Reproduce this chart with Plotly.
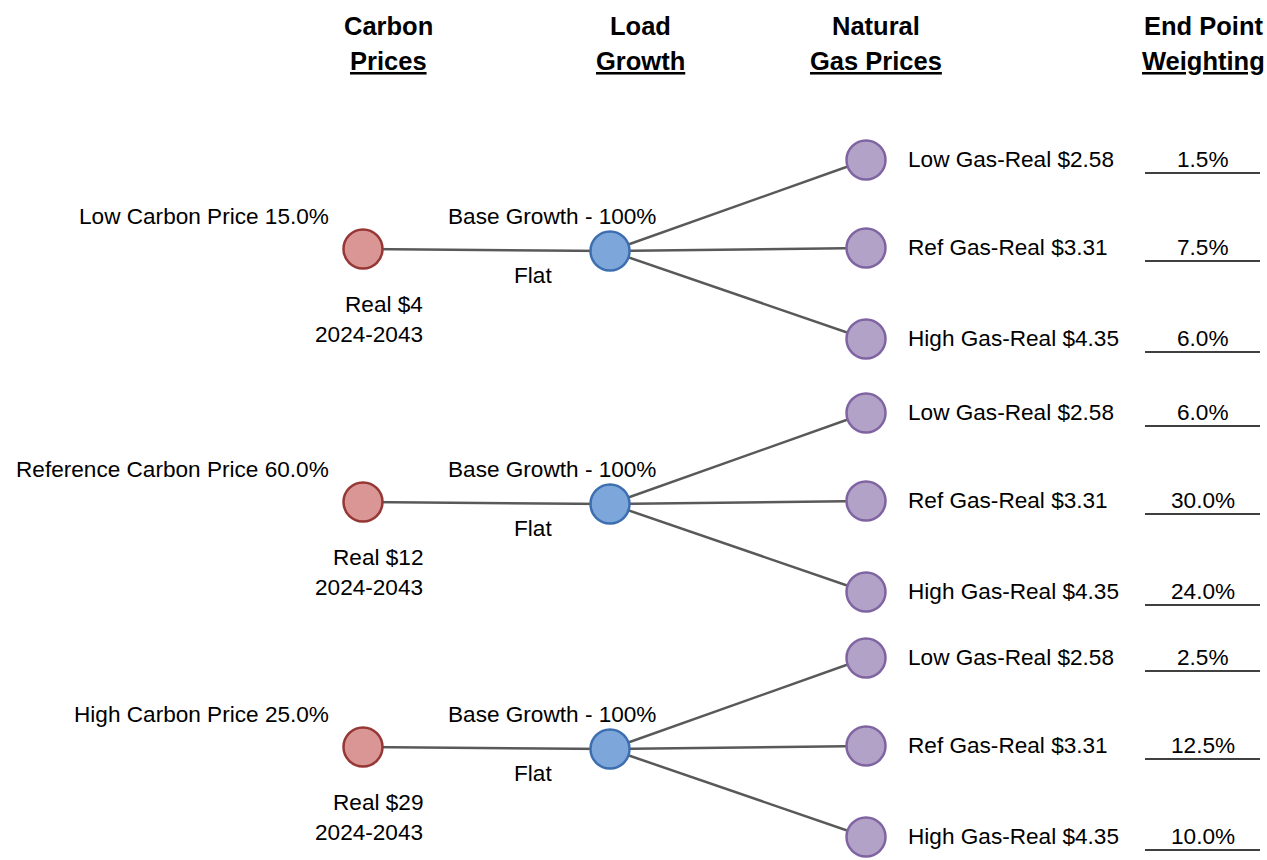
import plotly.graph_objects as go

# scenario tree data
carbon_labels = ["Low Carbon Price 15.0%", "Reference Carbon Price 60.0%", "High Carbon Price 25.0%"]
carbon_prices = ["Real $4", "Real $12", "Real $29"]
carbon_period = "2024-2043"
load_label = "Base Growth - 100%"
load_sub = "Flat"
gas_labels = ["Low Gas-Real $2.58", "Ref Gas-Real $3.31", "High Gas-Real $4.35"]
weights = [1.5, 7.5, 6.0, 6.0, 30.0, 24.0, 2.5, 12.5, 10.0]
headers = [("Carbon", "Prices"), ("Load", "Growth"), ("Natural", "Gas Prices"), ("End Point", "Weighting")]

# layout (pixel space)
X_CARBON, X_LOAD, X_GAS, X_PCT = 363, 610, 866, 1203
ROW_Y = [249, 502, 747]
GAS_OFFSET = [-91, -3, 88]
HEADER_X = [388, 640, 876, 1203]

FONT = "Liberation Sans, Arial, sans-serif"
LINE = "#595959"

fig = go.Figure()

# edges
ex, ey = [], []
gas_x, gas_y = [], []
for y in ROW_Y:
    ly = y + 2
    ex += [X_CARBON, X_LOAD, None]
    ey += [y, ly, None]
    for off in GAS_OFFSET:
        ex += [X_LOAD, X_GAS, None]
        ey += [ly, ly + off, None]
        gas_x.append(X_GAS)
        gas_y.append(ly + off)

fig.add_trace(go.Scatter(x=ex, y=ey, mode="lines", line=dict(color=LINE, width=2.5),
                         hoverinfo="skip"))

# underlines for weights
ux, uy = [], []
for gy in gas_y:
    ux += [X_PCT - 58, X_PCT + 57, None]
    uy += [gy + 13, gy + 13, None]
fig.add_trace(go.Scatter(x=ux, y=uy, mode="lines", line=dict(color="#000000", width=1.3),
                         hoverinfo="skip"))

# nodes
node_style = [
    ([X_CARBON] * 3, ROW_Y, "#D99694", "#953735"),
    ([X_LOAD] * 3, [y + 2 for y in ROW_Y], "#7DA7DB", "#3D6FB0"),
    (gas_x, gas_y, "#B3A2C7", "#8064A2"),
]
for xs, ys, fill, edge in node_style:
    fig.add_trace(go.Scatter(x=xs, y=ys, mode="markers",
                             marker=dict(size=39, color=fill, line=dict(color=edge, width=2.5)),
                             hoverinfo="skip"))

ann = []
txt = dict(size=22.6, color="#000000", family=FONT)
hdr = dict(size=25.5, color="#000000", family=FONT)

for hx, (h1, h2) in zip(HEADER_X, headers):
    ann.append(dict(x=hx, y=26, text="<b>" + h1 + "</b>", showarrow=False, font=hdr))
    ann.append(dict(x=hx, y=61, text="<b><u>" + h2 + "</u></b>", showarrow=False, font=hdr))

for i, y in enumerate(ROW_Y):
    ann.append(dict(x=331, y=y - 33, text=carbon_labels[i], xanchor="right",
                    showarrow=False, font=txt))
    ann.append(dict(x=425, y=y + 55, text=carbon_prices[i], xanchor="right",
                    showarrow=False, font=txt))
    ann.append(dict(x=425, y=y + 85, text=carbon_period, xanchor="right",
                    showarrow=False, font=txt))
    ann.append(dict(x=552, y=y - 33, text=load_label, showarrow=False, font=txt))
    ann.append(dict(x=533, y=y + 26, text=load_sub, showarrow=False, font=txt))

for k, gy in enumerate(gas_y):
    ann.append(dict(x=906, y=gy - 1, text=gas_labels[k % 3], xanchor="left",
                    showarrow=False, font=txt))
    ann.append(dict(x=X_PCT, y=gy - 1, text=f"{weights[k]:.1f}%", showarrow=False, font=txt))

fig.update_layout(
    width=1267, height=860,
    margin=dict(l=0, r=0, t=0, b=0),
    plot_bgcolor="white", paper_bgcolor="white",
    showlegend=False,
    annotations=ann,
    xaxis=dict(range=[0, 1267], visible=False, fixedrange=True),
    yaxis=dict(range=[860, 0], visible=False, fixedrange=True),
)

# drop the page's default body margin so the figure fills the window
fig.write_html("out.html", config={"displayModeBar": False},
               post_script="document.body.style.margin='0';document.body.style.overflow='hidden';")
